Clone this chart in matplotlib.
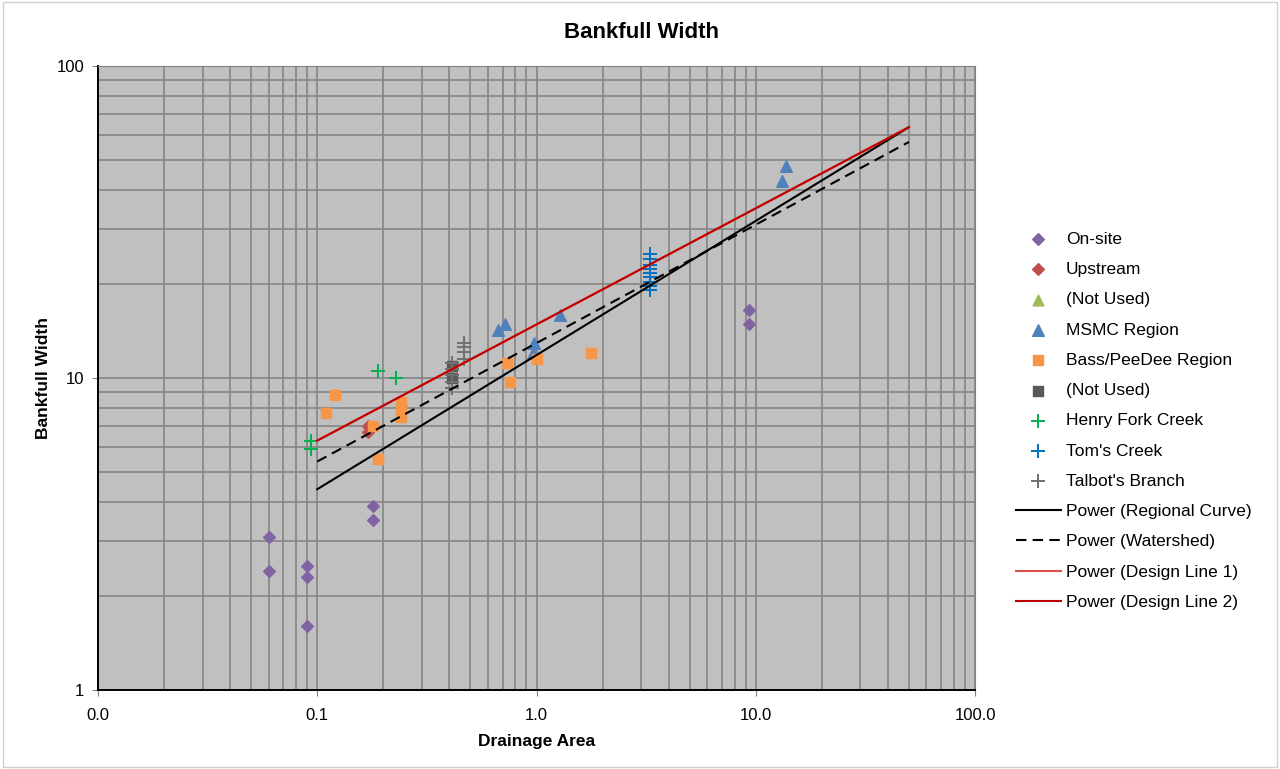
import matplotlib
matplotlib.use("Agg")
import matplotlib.pyplot as plt
from matplotlib.patches import Rectangle
from matplotlib.ticker import FixedLocator, FixedFormatter, LogLocator, NullFormatter

plt.rcParams['font.family'] = ['Liberation Sans', 'DejaVu Sans']

# data
onsite_x = [0.06, 0.06, 0.09, 0.09, 0.09, 0.18, 0.18, 9.3, 9.3]
onsite_y = [3.1, 2.4, 2.5, 2.3, 1.6, 3.9, 3.5, 16.5, 14.9]

upstream_x = [0.17, 0.17]
upstream_y = [7.0, 6.7]

msmc_x = [0.665, 0.72, 0.97, 0.96, 1.28, 13.7, 13.2]
msmc_y = [14.3, 14.9, 12.9, 12.0, 15.9, 47.8, 42.7]

bass_x = [0.12, 0.11, 0.18, 0.19, 0.24, 0.24, 0.24, 0.73, 0.76, 1.0, 1.78]
bass_y = [8.8, 7.7, 7.0, 5.5, 8.4, 7.9, 7.5, 11.2, 9.7, 11.5, 12.0]

notused2_x = [0.41, 0.41]
notused2_y = [10.9, 10.0]

henry_x = [0.094, 0.094, 0.19, 0.228]
henry_y = [6.3, 5.9, 10.5, 10.0]

toms_x = [3.3] * 9
toms_y = [25.0, 24.0, 23.0, 22.3, 21.7, 21.0, 20.3, 19.7, 19.2]

talbot_x = [0.41, 0.41, 0.41, 0.41, 0.41, 0.465, 0.465, 0.465, 0.465]
talbot_y = [11.15, 10.65, 10.2, 9.7, 9.3, 12.9, 12.6, 12.1, 11.5]

# power trendlines, end points (area 0.1 to 50)
trend_x = [0.1, 50]
regional_y = [4.4, 63.7]
watershed_y = [5.4, 57.1]
design1_y = [6.3, 63.7]
design2_y = [6.3, 63.7]

fig = plt.figure(figsize=(12.8, 7.69), dpi=100)
ax = fig.add_axes([98 / 1280, 1 - 690 / 769, 877 / 1280, 624 / 769])
ax.set_facecolor('#C0C0C0')

ax.scatter(onsite_x, onsite_y, marker='D', s=36, color='#8064A2', label='On-site', zorder=3)
ax.scatter(upstream_x, upstream_y, marker='D', s=36, color='#C0504D', label='Upstream', zorder=3)
ax.scatter([], [], marker='^', s=60, color='#9BBB59', label='(Not Used)')
ax.scatter(msmc_x, msmc_y, marker='^', s=70, color='#4F81BD', label='MSMC Region', zorder=3)
ax.scatter(bass_x, bass_y, marker='s', s=55, color='#F79646', label='Bass/PeeDee Region', zorder=3)
ax.scatter(notused2_x, notused2_y, marker='s', s=55, color='#595959', label='(Not Used)', zorder=3)
ax.scatter(henry_x, henry_y, marker='+', s=110, linewidths=1.4, color='#00B050',
           label='Henry Fork Creek', zorder=3)
ax.scatter(toms_x, toms_y, marker='+', s=110, linewidths=1.4, color='#0070C0',
           label="Tom's Creek", zorder=3)
ax.scatter(talbot_x, talbot_y, marker='+', s=110, linewidths=1.4, color='#707070',
           label="Talbot's Branch", zorder=3)

ax.plot(trend_x, regional_y, color='black', lw=1.5, label='Power (Regional Curve)', zorder=4)
ax.plot(trend_x, watershed_y, color='black', lw=1.5, ls=(0, (5, 3)), label='Power (Watershed)', zorder=4)
ax.plot(trend_x, design1_y, color='#E0504D', lw=1.5, label='Power (Design Line 1)', zorder=4)
ax.plot(trend_x, design2_y, color='#C00000', lw=1.5, label='Power (Design Line 2)', zorder=4)

ax.set_xscale('log')
ax.set_yscale('log')
ax.set_xlim(0.01, 100)
ax.set_ylim(1, 100)

ax.xaxis.set_major_locator(FixedLocator([0.01, 0.1, 1, 10, 100]))
ax.xaxis.set_major_formatter(FixedFormatter(['0.0', '0.1', '1.0', '10.0', '100.0']))
ax.yaxis.set_major_locator(FixedLocator([1, 10, 100]))
ax.yaxis.set_major_formatter(FixedFormatter(['1', '10', '100']))
for axis in (ax.xaxis, ax.yaxis):
    axis.set_minor_locator(LogLocator(base=10, subs=range(2, 10), numticks=20))
    axis.set_minor_formatter(NullFormatter())

ax.grid(True, which='both', color='#858585', lw=1.2)
ax.set_axisbelow(True)
ax.tick_params(which='major', length=4, labelsize=12, color='#808080', pad=6)
ax.tick_params(axis='x', which='major', pad=9)
ax.tick_params(which='minor', length=0)

for side in ('top', 'right'):
    ax.spines[side].set_color('#808080')
for side in ('left', 'bottom'):
    ax.spines[side].set_color('black')
    ax.spines[side].set_linewidth(1.4)

ax.set_xlabel('Drainage Area', fontsize=12.5, fontweight='bold', labelpad=8)
ax.set_ylabel('Bankfull Width', fontsize=12.5, fontweight='bold', labelpad=4)
fig.text(0.5015, 1 - 32 / 769, 'Bankfull Width', fontsize=16, fontweight='bold',
         ha='center', va='center')

ax.legend(loc='upper left', bbox_to_anchor=(1000 / 1280, 1 - 216 / 769),
          bbox_transform=fig.transFigure, frameon=False, fontsize=12.5,
          handlelength=2.6, handletextpad=0.3, labelspacing=0.87, scatterpoints=1)

fig.patches.append(Rectangle((0.002, 0.002), 0.996, 0.996, transform=fig.transFigure,
                             fill=False, edgecolor='#D0D0D0', lw=1))

fig.savefig('out.png', dpi=100)
